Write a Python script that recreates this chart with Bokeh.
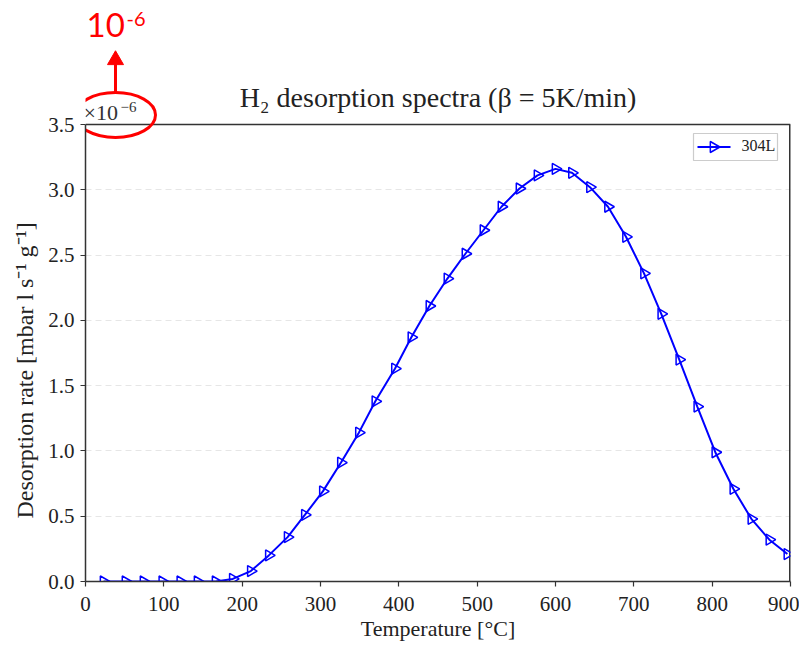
import numpy as np
from bokeh.plotting import figure
from bokeh.models import (ColumnDataSource, FixedTicker, Range1d, PrintfTickFormatter, Title)
from bokeh.core.properties import value
from bokeh.embed import file_html
from bokeh.resources import INLINE

# Temperature [°C]
temperature = [23, 51, 74, 98, 121, 143, 166, 188, 211, 234, 258, 280, 303, 326, 349,
               370, 395, 416, 439, 462, 485, 508, 531, 554, 577, 600, 621, 644, 667,
               690, 713, 735, 758, 781, 804, 827, 850, 873, 896]
# Desorption rate [x 1e-6 mbar l s^-1 g^-1]
rate = [0.0, 0.0, 0.0, 0.0, 0.0, 0.0, 0.0, 0.02, 0.08, 0.20, 0.34, 0.51, 0.69, 0.91, 1.14,
        1.38, 1.63, 1.87, 2.11, 2.32, 2.51, 2.69, 2.87, 3.01, 3.11, 3.16, 3.13, 3.02, 2.87,
        2.64, 2.36, 2.05, 1.70, 1.34, 0.99, 0.71, 0.48, 0.32, 0.21]
series_label = "304L"
x_ticks = [0, 100, 200, 300, 400, 500, 600, 700, 800, 900]
y_ticks = [0.0, 0.5, 1.0, 1.5, 2.0, 2.5, 3.0, 3.5]
X_MAX = 900
Y_MAX = 3.5

SERIF = "Liberation Serif"
BLUE = "#0000ff"
RED = "#ff0000"
DARK = "#222222"

# layout (pixels)
W, H = 799, 646
FL, FR, FT, FB = 85, 790, 124, 581          # data frame: left, right, y=Y_MAX row, bottom
XPP = X_MAX / (FR - FL)                     # data units per pixel (x)
YPP = Y_MAX / (FB - FT)                     # data units per pixel (y)
Y_TOP = FB * YPP                            # frame extends to the top of the canvas


def dx(px):
    return (px - FL) * XPP


def dy(py):
    return (FB - py) * YPP


def txt(px, py, s, font, size, color, align="left"):
    # py is the wanted baseline row; the renderer draws text a bit lower, compensate
    p.text(x=[dx(px)], y=[dy(py - 0.43 * size)], text=[s], text_font=value(font),
           text_font_size=f"{size}px", text_color=color, text_align=align,
           text_baseline="alphabetic")


src = ColumnDataSource(data=dict(t=temperature, r=rate))

p = figure(width=W, height=H, output_backend="svg", toolbar_location=None,
           x_range=Range1d(0, X_MAX), y_range=Range1d(0, Y_TOP),
           min_border_left=FL, min_border_right=W - FR, min_border_top=0,
           min_border_bottom=H - FB)
p.outline_line_color = None

for ax in (p.xaxis, p.yaxis):
    ax.major_label_text_font = SERIF
    ax.major_label_text_font_size = "21px"
    ax.major_label_text_color = DARK
    ax.axis_label_text_font = SERIF
    ax.axis_label_text_font_size = "22px"
    ax.axis_label_text_font_style = "normal"
    ax.axis_label_text_color = DARK
    ax.axis_line_color = "#333333"
    ax.axis_line_width = 1.5
    ax.major_tick_line_color = "#333333"
    ax.major_tick_line_width = 1.2
    ax.major_tick_in = 0
    ax.major_tick_out = 5
    ax.minor_tick_line_color = None

p.xaxis.ticker = FixedTicker(ticks=x_ticks)
p.yaxis.ticker = FixedTicker(ticks=y_ticks)
p.yaxis.formatter = PrintfTickFormatter(format="%.1f")
p.yaxis.bounds = (0, Y_MAX)
p.xaxis.major_label_standoff = 10
p.yaxis.major_label_standoff = 6
p.xaxis.axis_label = "Temperature [\u00b0C]"
p.xaxis.axis_label_standoff = 2

# y axis label as a side title so it can be placed along the data part of the frame
ylab = Title(text="Desorption rate [mbar l s\u207b\u00b9 g\u207b\u00b9]", align="left",
             offset=63, text_font=SERIF, text_font_size="24px", text_font_style="normal",
             text_color=DARK, standoff=15)
p.add_layout(ylab, "left")

p.xgrid.grid_line_color = None
p.ygrid.grid_line_color = "#e6e6e6"
p.ygrid.grid_line_dash = "6 4"
p.ygrid.grid_line_width = 1

# top and right edges of the data box
p.segment(x0=[0, X_MAX], y0=[Y_MAX, 0], x1=[X_MAX, X_MAX], y1=[Y_MAX, Y_MAX],
          line_color="#333333", line_width=[1.5, 3])

p.line("t", "r", source=src, line_color=BLUE, line_width=2)
p.scatter("t", "r", source=src, marker="triangle", angle=-np.pi / 2, size=11,
          line_color=BLUE, line_width=1.5, fill_color=None)

# legend box (drawn by hand so that its marker points right as in the data)
p.quad(left=[dx(693)], right=[dx(777)], top=[dy(133)], bottom=[dy(160)],
       fill_color="white", line_color="#cccccc", line_width=1.2)
p.segment(x0=[dx(697)], y0=[dy(146.5)], x1=[dx(730)], y1=[dy(146.5)],
          line_color=BLUE, line_width=2)
p.scatter(x=[dx(713)], y=[dy(146.5)], marker="triangle", angle=-np.pi / 2, size=11,
          line_color=BLUE, line_width=1.5, fill_color=None)
txt(741, 152, series_label, SERIF, 16, DARK)

# title
txt(437.5, 109, "H\u2082 desorption spectra (\u03b2 = 5K/min)", SERIF, 28, DARK, "center")

# multiplier of the y axis
txt(83, 121, "\u00d710", SERIF, 22, "#333333")
txt(120, 113, "\u22126", SERIF, 15, "#333333")

# red annotation: ellipse, arrow and enlarged exponent
p.ellipse(x=[dx(115)], y=[dy(114.5)], width=[80 * XPP], height=[45 * YPP],
          fill_color=None, line_color=RED, line_width=3)
p.segment(x0=[dx(115)], y0=[dy(92)], x1=[dx(115)], y1=[dy(62)],
          line_color=RED, line_width=3)
p.scatter(x=[dx(115)], y=[dy(59.5)], marker="triangle", size=16,
          fill_color=RED, line_color=RED)
txt(86, 39, "10", "Lato", 33, RED)
txt(126, 27, "-6", "Lato", 20, RED)

open("out.html", "w").write(file_html(p, INLINE))
